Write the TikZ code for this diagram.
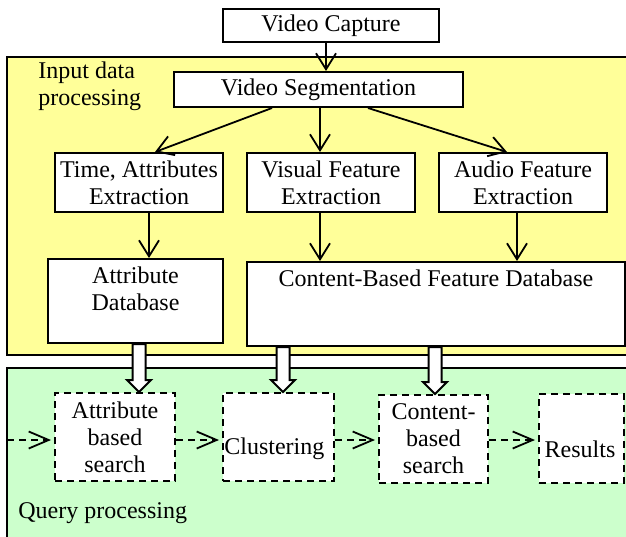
\documentclass[tikz,border=0pt]{standalone}
\usepackage{fontspec}
\setmainfont{Liberation Serif}
\usetikzlibrary{arrows.meta,calc}
\definecolor{inyellow}{RGB}{255,255,153}
\definecolor{qgreen}{RGB}{204,255,204}
\newcommand\hollowarrow[3]{%
  \path (#1,0 |- #2) coordinate (ha-top) (#1,0 |- #3) coordinate (ha-tip);
  \draw[hollow] ($(ha-top)+(-6.5,0)$) -- ($(ha-tip)+(-6.5,-12)$) -- ($(ha-tip)+(-12,-12)$) -- (ha-tip)
     -- ($(ha-tip)+(12,-12)$) -- ($(ha-tip)+(6.5,-12)$) -- ($(ha-top)+(6.5,0)$) -- cycle;}
\begin{document}
\begin{tikzpicture}[x=0.5pt,y=-0.5pt,
  txt/.style={font=\fontsize{12}{13.5}\selectfont, inner sep=0pt, align=center},
  box/.style={draw, line width=1pt, fill=white, inner sep=0pt, txt},
  dbox/.style={box, dash pattern=on 3.5pt off 2.5pt},
  arr/.style={line width=0.9pt, -{Straight Barb[length=8pt,width=10pt,line width=0.9pt]}},
  darr/.style={line width=0.9pt, dash pattern=on 3.5pt off 2.5pt, shorten >=1.5pt,
     -{Straight Barb[length=10pt,width=8.5pt,line width=0.9pt]}},
  hollow/.style={draw, line width=1pt, fill=white, line join=miter},
  region/.style={draw, line width=1pt}]
\useasboundingbox (0,0) rectangle (626,536);
\clip (0,0) rectangle (626,536);
% regions
\draw[region, fill=inyellow] (7,57) rectangle (640,355);
\draw[region, fill=qgreen] (7,368) rectangle (640,560);
% input processing boxes
\node[box, minimum width=108pt, minimum height=16.5pt] (cap) at (331,25.5) {Video Capture};
\node[box, minimum width=144.5pt, minimum height=17.5pt] (seg) at (318.5,89.5) {Video Segmentation};
\node[box, minimum width=84pt, minimum height=29.5pt] (time) at (139,182.5) {Time, Attributes\\Extraction};
\node[box, minimum width=84pt, minimum height=29.5pt] (vis) at (331,182.5) {Visual Feature\\Extraction};
\node[box, minimum width=84pt, minimum height=29.5pt] (aud) at (523,182.5) {Audio Feature\\Extraction};
\node[box, minimum width=87.5pt, minimum height=42pt] (adb) at (135.5,301) {};
\node[txt] (adbt) at (135.5,289) {Attribute\\Database};
\node[box, minimum width=189pt, minimum height=42pt] (cdb) at (436,304) {};
\node[txt] (cdbt) at (436,278) {Content-Based Feature Database};
\node[txt, align=left, anchor=west] (inlbl) at (38,86.5) {Input data\\processing};
% query processing boxes
\node[txt, anchor=base west] (qlbl) at (18,518) {Query processing};
\node[dbox, minimum width=60pt, minimum height=44pt] (as) at (115,437) {Attribute\\based\\search};
\node[dbox, minimum width=55.5pt, minimum height=44pt] (cl) at (278.5,437) {};
\node[txt, anchor=base west] (clt) at (224,454) {Clustering};
\node[dbox, minimum width=54.5pt, minimum height=44pt] (cs) at (433.5,439) {Content-\\based\\search};
\node[dbox, minimum width=42.5pt, minimum height=44.5pt] (rs) at (581.5,438.5) {};
\node[txt, anchor=base] (rst) at (580,457) {Results};
% solid connectors
\draw[arr] (cap.south -| 326,0) -- (seg.north -| 326,0);
\draw[arr] (seg.south -| 272,0) -- (time.north -| 155,0);
\draw[arr] (seg.south -| 320,0) -- (vis.north -| 320,0);
\draw[arr] (seg.south -| 368,0) -- (aud.north -| 507,0);
\draw[arr] (time.south -| 149,0) -- (adb.north -| 149,0);
\draw[arr] (vis.south -| 320,0) -- (cdb.north -| 320,0);
\draw[arr] (aud.south -| 517,0) -- (cdb.north -| 517,0);
% dashed connectors
\coordinate (qin) at (7,440);
\draw[darr] (qin) -- (as.west |- qin);
\draw[darr] (as.east |- qin) -- (cl.west |- qin);
\draw[darr] (cl.east |- qin) -- (cs.west |- qin);
\draw[darr] (cs.east |- qin) -- (rs.west |- qin);
% hollow arrows
\hollowarrow{139}{adb.south}{as.north}
\hollowarrow{283}{cdb.south}{cl.north}
\hollowarrow{435}{cdb.south}{cs.north}
\end{tikzpicture}
\end{document}
